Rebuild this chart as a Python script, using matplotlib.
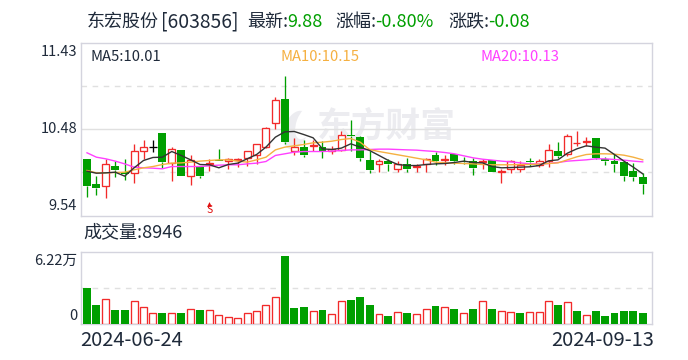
import matplotlib
matplotlib.use("Agg")
import matplotlib.pyplot as plt
from matplotlib.patches import Ellipse
from matplotlib.transforms import IdentityTransform

plt.rcParams['font.family'] = ['Noto Sans CJK SC', 'DejaVu Sans']

opens = [10.16,9.88,9.86,10.08,10.02,10.00,10.25,10.29,10.44,10.11,10.26,9.97,10.07,10.10,10.15,10.14,10.15,10.17,10.20,10.29,
         10.55,10.81,10.25,10.29,10.30,10.29,10.25,10.26,10.42,10.40,10.15,10.10,10.13,10.05,10.10,10.07,10.10,10.20,10.15,10.21,
         10.13,10.14,10.12,10.15,10.01,10.05,10.05,10.13,10.09,10.14,10.25,10.21,10.33,10.34,10.39,10.16,10.14,10.12,10.03,9.96]
closes = [9.86,9.84,10.10,10.04,9.99,10.24,10.29,10.29,10.12,10.27,9.97,10.15,9.97,10.11,10.13,10.16,10.16,10.25,10.32,10.50,
          10.80,10.34,10.29,10.20,10.31,10.24,10.27,10.42,10.41,10.17,10.04,10.14,10.10,10.10,10.05,10.08,10.16,10.14,10.16,10.13,
          10.12,10.06,10.13,10.01,10.03,10.13,10.09,10.12,10.13,10.26,10.19,10.41,10.33,10.35,10.17,10.13,10.10,9.97,9.96,9.88]
highs = [10.16,9.97,10.16,10.14,10.16,10.32,10.37,10.36,10.44,10.29,10.26,10.20,10.07,10.16,10.27,10.17,10.17,10.25,10.32,10.51,
         10.83,11.06,10.39,10.36,10.36,10.35,10.30,10.46,10.58,10.41,10.25,10.16,10.16,10.14,10.17,10.10,10.17,10.23,10.20,10.21,
         10.18,10.17,10.16,10.15,10.05,10.15,10.14,10.17,10.16,10.32,10.34,10.43,10.46,10.40,10.39,10.18,10.21,10.12,10.11,10.00]
lows = [9.74,9.76,9.73,9.96,9.93,9.90,10.16,10.23,10.06,9.92,9.97,9.87,9.95,10.03,10.13,10.05,10.07,10.08,10.10,10.28,
        10.49,10.32,10.20,10.18,10.24,10.17,10.21,10.24,10.24,10.13,10.00,10.02,10.03,10.01,10.02,10.01,10.02,10.09,10.09,10.10,
        10.10,9.98,10.05,10.01,9.90,10.00,10.01,10.08,10.07,10.07,10.17,10.19,10.30,10.30,10.16,10.09,10.01,9.92,9.92,9.77]
ma5 = [10.024,10.002,10.006,10.013,9.970,10.061,10.141,10.174,10.177,10.239,10.196,10.148,10.097,10.094,10.061,10.097,10.112,10.159,10.206,10.287,
       10.396,10.454,10.458,10.425,10.389,10.268,10.261,10.276,10.323,10.287,10.250,10.196,10.141,10.097,10.086,10.086,10.097,10.104,10.108,10.119,
       10.134,10.119,10.115,10.075,10.061,10.064,10.068,10.072,10.086,10.137,10.148,10.221,10.268,10.301,10.287,10.276,10.206,10.134,10.068,9.995]
ma10 = [10.032,10.006,10.006,10.010,10.013,10.039,10.061,10.075,10.097,10.112,10.115,10.123,10.134,10.141,10.148,10.148,10.134,10.123,10.148,10.177,
        10.257,10.287,10.301,10.316,10.334,10.341,10.352,10.370,10.381,10.341,10.261,10.239,10.221,10.203,10.185,10.166,10.148,10.123,10.115,10.112,
        10.108,10.104,10.097,10.094,10.094,10.094,10.097,10.097,10.101,10.108,10.115,10.148,10.181,10.206,10.214,10.214,10.210,10.199,10.177,10.148]
ma20 = [10.225,10.177,10.159,10.134,10.104,10.068,10.061,10.057,10.050,10.075,10.075,10.075,10.075,10.083,10.090,10.094,10.094,10.104,10.112,10.130,
        10.196,10.214,10.232,10.239,10.239,10.239,10.243,10.250,10.257,10.257,10.261,10.265,10.265,10.261,10.257,10.254,10.246,10.239,10.228,10.214,
        10.192,10.170,10.155,10.145,10.134,10.126,10.115,10.104,10.104,10.108,10.119,10.134,10.141,10.148,10.159,10.159,10.152,10.145,10.134,10.126]
volumes = [3.04,1.56,2.14,1.13,1.13,1.97,1.45,0.93,0.95,0.93,0.87,1.27,1.13,1.19,0.75,0.58,0.49,0.93,1.10,1.62,
           2.31,5.81,1.30,1.39,1.10,1.13,0.84,1.97,2.00,2.26,1.56,0.84,0.69,1.01,0.87,0.84,1.27,1.48,1.45,1.22,
           0.93,1.22,1.97,1.22,1.10,1.01,0.87,1.01,1.01,1.97,1.56,1.88,1.04,0.75,1.04,0.61,0.95,1.04,1.04,0.87]
vol_up = "ggrggrrrgrgrgrrrrrrrrgggrgrrggg" + "rgrgrrgrgrgrgrrgrrrgrgrgggggg"
price_ticks = [11.43, 10.48, 9.54]
vol_tick_top = 6.22
first_date, last_date = "2024-06-24", "2024-09-13"

GREEN, RED = "#009f00", "#f22a2a"
INK = "#1f2a3a"
W, H = 688, 360
fig = plt.figure(figsize=(W/100, H/100), dpi=100, facecolor="white")

def panel(l, t, r, b):
    ax = fig.add_axes([l/W, 1-b/H, (r-l)/W, (b-t)/H])
    for s in ax.spines.values():
        s.set_color("#d4d4de"); s.set_linewidth(1.0)
    ax.set_xticks([]); ax.set_yticks([])
    ax.set_xlim(-0.69, 59.93)
    return ax

ax = panel(80.5, 42.5, 651.5, 215.5)
ax.set_ylim(price_ticks[2], price_ticks[0])
span = price_ticks[0]-price_ticks[2]

# watermark: swoosh and wordmark, placed in figure pixels
ax.add_patch(Ellipse((296, H-130), 24, 40, angle=-20, transform=IdentityTransform(),
                     facecolor="#ececf0", edgecolor="none", zorder=1))
ax.add_patch(Ellipse((305, H-123), 17, 34, angle=-20, transform=IdentityTransform(),
                     facecolor="white", edgecolor="none", zorder=1))
ax.text((386-80.5)/571, 1-(126-42.5)/173, "东方财富", transform=ax.transAxes, fontsize=25,
        fontweight="bold", color="#ececf0", ha="center", va="center", zorder=1)

for f, ls in ((0.25, (0, (4, 4))), (0.5, "-"), (0.75, (0, (4, 4)))):
    ax.axhline(price_ticks[2]+span*(1-f), color="#e0e0e0", lw=1.0, ls=ls, zorder=2)

LW = 0.95
for i in range(60):
    o, c, h, l = opens[i], closes[i], highs[i], lows[i]
    doji = i == 7
    col = "black" if doji else (RED if c >= o else GREEN)
    top, bot = max(o, c), min(o, c)
    ax.vlines(i, top, h, color=col, lw=LW, zorder=3)
    ax.vlines(i, l, bot, color=col, lw=LW, zorder=3)
    if col == GREEN:
        ax.bar(i, top-bot, 0.84, bot, color=GREEN, lw=0, zorder=3)
    elif doji:
        ax.hlines(c, i-0.42, i+0.42, color="black", lw=LW, zorder=3)
    else:
        ax.bar(i, top-bot, 0.74, bot, facecolor="white", edgecolor=RED, lw=LW, zorder=3)

xs = list(range(60))
ax.plot(xs, ma20, color="#ff40ff", lw=1.0, zorder=4)
ax.plot(xs, ma10, color="#f5b041", lw=1.0, zorder=5)
ax.plot(xs, ma5, color="#333333", lw=1.0, zorder=6)

# S marker
ax.plot([13], [9.666], marker="^", ms=3.5, mew=0, color="#e01010", zorder=7)
ax.text(13, 9.60, "S", color="#e01010", fontsize=7.5, ha="center", va="center", zorder=7)

vx = panel(80.5, 251.5, 651.5, 323.5)
vx.set_ylim(0, vol_tick_top)
vx.axhline(vol_tick_top/2, color="#e0e0e0", lw=1.0, ls=(0, (4, 4)), zorder=1)
for i, v in enumerate(volumes):
    if vol_up[i] == "g":
        vx.bar(i, v, 0.84, color=GREEN, lw=0, zorder=3)
    else:
        vx.bar(i, v, 0.74, facecolor="white", edgecolor=RED, lw=LW, zorder=3)

def tx(x, y, s, **k):
    k.setdefault("fontsize", 13); k.setdefault("color", INK)
    k.setdefault("va", "center"); k.setdefault("ha", "left")
    fig.text(x/W, 1-y/H, s, **k)

tx(87, 22, "东宏股份")
tx(161, 22, "[603856]", fontsize=13.9)
tx(247, 22, "最新:")
tx(287, 22, "9.88", color=GREEN)
tx(335, 22, "涨幅:")
tx(375, 22, "-0.80%", color=GREEN)
tx(448, 22, "涨跌:")
tx(488, 22, "-0.08", color=GREEN)
tx(90, 57, "MA5:10.01", fontsize=10.7)
tx(280, 57, "MA10:10.15", fontsize=10.7, color="#f5b041")
tx(480, 57, "MA20:10.13", fontsize=10.7, color="#ff40ff")
tx(77, 52, f"{price_ticks[0]:.2f}", ha="right", fontsize=10.5)
tx(77, 129, f"{price_ticks[1]:.2f}", ha="right", fontsize=10.5)
tx(77, 206, f"{price_ticks[2]:.2f}", ha="right", fontsize=10.5)
tx(83, 232, "成交量:8946")
tx(77, 261, f"{vol_tick_top:.2f}万", ha="right", fontsize=10.5)
tx(77, 316, "0", ha="right", fontsize=10.5)
tx(80, 341, first_date, fontsize=14.5)
tx(654, 341, last_date, ha="right", fontsize=14.5)

fig.savefig("out.png", dpi=100)
